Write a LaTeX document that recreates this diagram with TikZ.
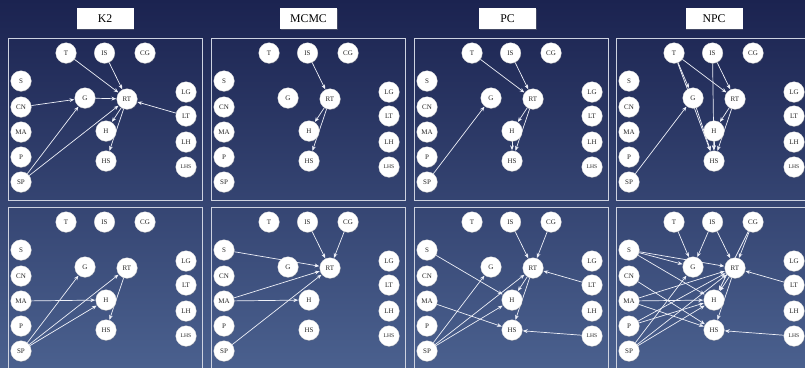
\documentclass[tikz,border=0pt]{standalone}
\usepackage{fontspec}
\setmainfont{Liberation Serif}
\usetikzlibrary{arrows.meta,shadows}
\pgfdeclarelayer{back}
\pgfdeclarelayer{edges}
\pgfsetlayers{back,edges,main}
\definecolor{bgtop}{RGB}{27,35,80}
\definecolor{bgbot}{RGB}{74,96,142}
\definecolor{panelc}{RGB}{205,210,224}
\definecolor{edgec}{RGB}{238,240,248}
\tikzset{
  bn/.style={circle, fill=white, draw=black!12, line width=0.3pt, minimum size=20.5pt, inner sep=0pt,
     font=\fontsize{7}{8}\selectfont, text=black!85,
     drop shadow={shadow xshift=0.6pt, shadow yshift=-0.8pt, opacity=0.3}},
  bns/.style={bn, font=\fontsize{5.6}{6}\selectfont},
  edge/.style={draw=edgec, line width=0.7pt, -{Stealth[length=4.8pt,width=3.8pt]}, shorten >=0.4pt},
  panelbox/.style={draw=panelc, line width=1pt},
  titlebox/.style={fill=white, minimum width=57pt, minimum height=21pt, inner sep=0pt,
     font=\fontsize{11.8}{13}\selectfont, text=black,
     drop shadow={shadow xshift=0.8pt, shadow yshift=-0.9pt, opacity=0.4}}
}
\newcommand\mkpanel[3]{%
  \begin{scope}[shift={(#2,#3)}]
    \draw[panelbox] (0,0) rectangle (194,162);
    \node[bn] (#1T) at (58,15) {T};
    \node[bn] (#1IS) at (96.5,15) {IS};
    \node[bn] (#1CG) at (137,15) {CG};
    \node[bn] (#1S) at (13,43) {S};
    \node[bn] (#1CN) at (13,69) {CN};
    \node[bn] (#1MA) at (13,94) {MA};
    \node[bn] (#1P) at (13,119) {P};
    \node[bn] (#1SP) at (13,144) {SP};
    \node[bn] (#1G) at (77,60) {G};
    \node[bn] (#1RT) at (119,61) {RT};
    \node[bn] (#1H) at (98,93) {H};
    \node[bn] (#1HS) at (98,123) {HS};
    \node[bn] (#1LG) at (178,54) {LG};
    \node[bn] (#1LT) at (178,78) {LT};
    \node[bn] (#1LH) at (178,104) {LH};
    \node[bns] (#1LHS) at (178,129) {LHS};
  \end{scope}}
\newcommand\links[2]{\foreach \a/\b in {#2}{\draw[edge] (#1\a) -- (#1\b);}}
\begin{document}
\begin{tikzpicture}[x=1pt,y=-1pt]
\useasboundingbox (0,0) rectangle (805,367);
\begin{pgfonlayer}{back}
\shade[top color=bgtop, bottom color=bgbot] (0,0) rectangle (805,367);
\end{pgfonlayer}
\node[titlebox] (tK2) at (105,18.5) {K2};
\node[titlebox] (tMCMC) at (308.5,18.5) {MCMC};
\node[titlebox] (tPC) at (507.5,18.5) {PC};
\node[titlebox] (tNPC) at (714,18.5) {NPC};
\mkpanel{k2a}{8}{38}
\mkpanel{mca}{211}{38}
\mkpanel{pca}{414}{38}
\mkpanel{npa}{616}{38}
\mkpanel{k2b}{8}{207}
\mkpanel{mcb}{211}{207}
\mkpanel{pcb}{414}{207}
\mkpanel{npb}{616}{207}
\begin{pgfonlayer}{edges}
\links{k2a}{T/RT,IS/RT,CN/G,G/RT,SP/G,SP/RT,LT/RT,RT/H,RT/HS}
\links{mca}{IS/RT,RT/H,RT/HS}
\links{pca}{T/RT,IS/RT,SP/G,RT/H,RT/HS,H/HS}
\links{npa}{T/G,T/RT,T/HS,IS/RT,IS/HS,G/HS,H/HS,RT/H,RT/HS,SP/G}
\links{k2b}{SP/G,SP/RT,SP/H,MA/H,RT/HS}
\links{mcb}{IS/RT,CG/RT,S/RT,MA/RT,MA/H,SP/RT}
\links{pcb}{IS/RT,CG/RT,S/H,MA/HS,SP/G,SP/RT,SP/H,RT/H,RT/HS,LT/RT,LHS/HS}
\links{npb}{T/G,IS/G,IS/RT,CG/RT,CG/H,S/G,S/RT,S/H,CN/HS,MA/RT,MA/H,MA/HS,P/RT,P/H,SP/G,SP/RT,SP/H,RT/H,RT/HS,LT/RT,LHS/HS}
\end{pgfonlayer}
\end{tikzpicture}
\end{document}
